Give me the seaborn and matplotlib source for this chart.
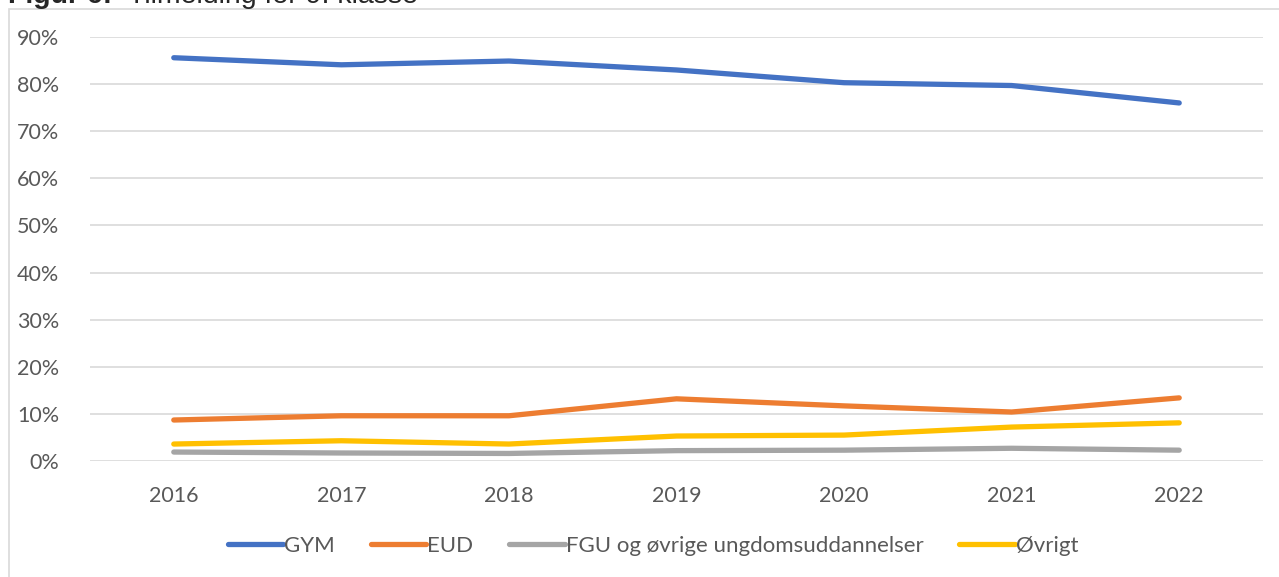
import matplotlib
matplotlib.use("Agg")
import matplotlib.pyplot as plt
import seaborn as sns
import pandas as pd
from matplotlib.patches import Rectangle
from matplotlib.ticker import PercentFormatter

years = ["2016", "2017", "2018", "2019", "2020", "2021", "2022"]
gym = [0.856, 0.841, 0.849, 0.830, 0.803, 0.797, 0.760]
eud = [0.087, 0.096, 0.096, 0.132, 0.117, 0.104, 0.134]
fgu = [0.019, 0.017, 0.016, 0.022, 0.023, 0.027, 0.023]
ovrigt = [0.036, 0.043, 0.036, 0.053, 0.055, 0.072, 0.081]
series_names = ["GYM", "EUD", "FGU og øvrige ungdomsuddannelser", "Øvrigt"]
colors = ["#4472C4", "#ED7D31", "#A5A5A5", "#FFC000"]

rows = []
for name, vals in zip(series_names, [gym, eud, fgu, ovrigt]):
    for y, v in zip(years, vals):
        rows.append({"year": y, "value": v, "series": name})
df = pd.DataFrame(rows)

sns.set_style("white")
plt.rcParams["font.family"] = ["Lato", "DejaVu Sans"]

fig = plt.figure(figsize=(12.79, 5.77), dpi=100)
ax = fig.add_axes([90 / 1279, 1 - 461 / 577, (1263 - 90) / 1279, (461 - 37) / 577])

sns.lineplot(data=df, x="year", y="value", hue="series", palette=colors,
             hue_order=series_names, linewidth=3.8, ax=ax, legend=False,
             solid_capstyle="round", sort=False)

ax.set_xlim(-0.5, 6.5)
ax.set_ylim(0, 0.9)
ax.set_yticks([i / 10 for i in range(10)])
ax.yaxis.set_major_formatter(PercentFormatter(1.0, decimals=0))
ax.grid(axis="y", color="#D9D9D9", linewidth=1.2)
ax.grid(axis="x", visible=False)
for s in ax.spines.values():
    s.set_visible(False)
ax.tick_params(axis="both", length=0, labelsize=15.5, labelcolor="#595959")
ax.tick_params(axis="y", pad=22)
ax.tick_params(axis="x", pad=18)
ax.set_xlabel("")
ax.set_ylabel("")

handles = [plt.Line2D([], [], color=c, linewidth=3.8, solid_capstyle="round") for c in colors]
fig.legend(handles, series_names, loc="center", bbox_to_anchor=(653 / 1279, 1 - 546 / 577),
           ncol=4, frameon=False, fontsize=16, labelcolor="#595959",
           handlelength=2.5, handletextpad=0.05, columnspacing=1.6)

fig.patches.append(Rectangle((9 / 1279, -0.05), 1.2, 1 - 9 / 577 + 0.05,
                             transform=fig.transFigure, fill=False,
                             edgecolor="#D9D9D9", linewidth=1.2))

fig.text(8 / 1279, 1 - 3 / 577, "Figur 6:", fontsize=20.5, fontweight="bold",
         family="Liberation Sans", va="baseline", ha="left")
fig.text(128 / 1279, 1 - 3 / 577, "Tilmelding for 9. klasse", fontsize=20.5,
         family="Liberation Sans", va="baseline", ha="left")

fig.savefig("out.png", dpi=100)
